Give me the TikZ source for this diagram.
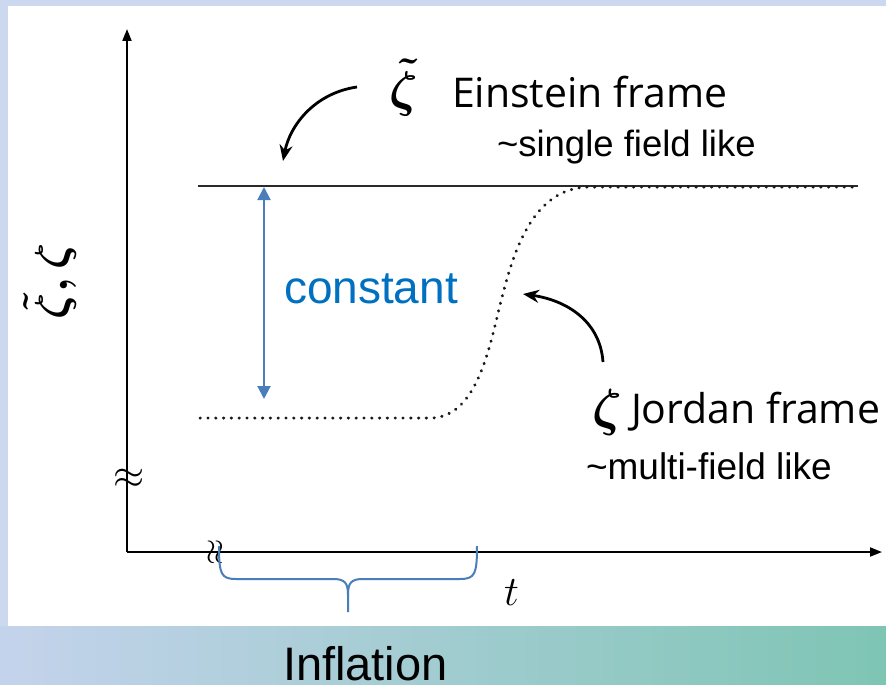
\RequirePackage{fix-cm}
\documentclass[tikz,border=0pt]{standalone}
\usepackage{fontspec}
\newfontfamily\osans{Open Sans}
\newfontfamily\lsans{Liberation Sans}
\usetikzlibrary{arrows.meta}
\definecolor{bgblue}{HTML}{CBD8EF}
\definecolor{bandleft}{HTML}{C4D3EC}
\definecolor{bandright}{HTML}{7EC5B4}
\definecolor{arrowblue}{HTML}{4A7EBB}
\definecolor{textblue}{HTML}{0070C0}
\definecolor{darkline}{HTML}{2A2A2A}
\tikzset{
  axisline/.style={line width=1.8pt, black, -{Triangle[length=12pt,width=9pt]}},
  curvearrow/.style={line width=2.8pt, black, -{Stealth[length=16pt,width=13pt]}},
  bluedouble/.style={line width=2pt, arrowblue, {Triangle[length=13pt,width=13pt]}-{Triangle[length=13pt,width=13pt]}},
  bracestyle/.style={line width=2pt, arrowblue},
  dotline/.style={line width=3pt, black!90, line cap=round, dash pattern=on 0.4pt off 7.4pt},
  solidline/.style={line width=1.7pt, darkline},
  lbl/.style={inner sep=0pt, outer sep=0pt, anchor=base west},
}
\begin{document}
\begin{tikzpicture}[x=1pt,y=-1pt]
\useasboundingbox (0,0) rectangle (886,685);
\fill[bgblue] (0,0) rectangle (886,685);
\shade[left color=bandleft, right color=bandright] (0,626) rectangle (886,685);
\fill[white] (8,6) rectangle (886,626);

% axes
\coordinate (O) at (127,552);
\coordinate (ytop) at (127,29);
\coordinate (xend) at (882,552);
\draw[axisline] (O) -- (ytop);
\draw[axisline] (O) -- (xend);
\node[inner sep=0pt, font=\fontsize{40}{40}\selectfont] (ybreak) at (129,479) {$\approx$};
\node[inner sep=0pt, rotate=90, font=\fontsize{34}{34}\selectfont] (xbreak) at (216,552) {$\approx$};

% Einstein frame line
\coordinate (eL) at (198,186);
\coordinate (eR) at (858,186);
\draw[solidline] (eL) -- (eR);

% Jordan frame dotted curve
\coordinate (jL) at (200,418);
\coordinate (j1) at (430,418);
\coordinate (jm) at (500,305);
\coordinate (j2) at (590,187);
\coordinate (jR) at (858,187);
\draw[dotline] (jL) -- (j1) .. controls (476,418) and (489,350) .. (jm)
  .. controls (512,258) and (530,187) .. (j2) -- (jR);

% constant arrow
\coordinate (cT) at (264,187);
\coordinate (cB) at (264,399);
\draw[bluedouble] (cT) -- (cB);
\node[lbl, text=textblue, font=\lsans\fontsize{46}{46}\selectfont] (const) at (284,303) {constant};

% Einstein label
\node[inner sep=0pt, anchor=base, font=\fontsize{50}{50}\selectfont\boldmath] (zt) at (404,106) {$\tilde\zeta$};
\node[lbl, font=\osans\fontsize{41}{41}\selectfont] (ein) at (452,107) {Einstein frame};
\node[lbl, font=\lsans\fontsize{36.5}{37}\selectfont] (single) at (497,156) {\textasciitilde single field like};
\coordinate (a1s) at (357,87);
\coordinate (a1e) at (283,161);
\draw[curvearrow] (a1s) .. controls (315,93) and (290,125) .. (a1e);

% Jordan label
\node[inner sep=0pt, anchor=base, font=\fontsize{52}{52}\selectfont\boldmath] (zj) at (607,425) {$\zeta$};
\node[lbl, font=\osans\fontsize{41}{41}\selectfont] (jor) at (631,423) {Jordan frame};
\node[lbl, font=\lsans\fontsize{37}{37}\selectfont] (multi) at (586,479) {\textasciitilde multi-field like};
\coordinate (a2s) at (603,362);
\coordinate (a2e) at (523,294);
\draw[curvearrow] (a2s) .. controls (600,320) and (565,300) .. (a2e);

% y label
\node[inner sep=0pt, rotate=90, font=\fontsize{46}{46}\selectfont\boldmath] (ylab) at (50,281) {$\tilde\zeta,\zeta$};

% brace
\coordinate (bL) at (219,546);
\coordinate (bR) at (477,546);
\coordinate (bTip) at (348,612);
\draw[bracestyle] (bL) .. controls (219,574) and (221,579) .. (236,579) -- (333,579)
  .. controls (345,579) and (348,583) .. (348,595) -- (bTip);
\draw[bracestyle] (bR) .. controls (477,574) and (475,579) .. (460,579) -- (363,579)
  .. controls (351,579) and (348,583) .. (348,595);

% t and Inflation
\node[lbl, font=\fontsize{42}{42}\selectfont] (tlab) at (504,605) {$t$};
\node[lbl, font=\lsans\fontsize{47}{47}\selectfont] (infl) at (283,680) {Inflation};
\end{tikzpicture}
\end{document}
